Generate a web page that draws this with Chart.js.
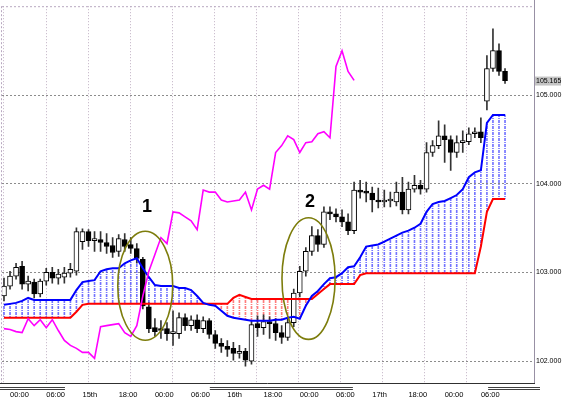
<!DOCTYPE html>
<html>
<head>
<meta charset="utf-8">
<script src="https://cdn.jsdelivr.net/npm/chart.js@4.4.1/dist/chart.umd.min.js"></script>
<style>
  html, body { margin:0; padding:0; background:#fff; }
</style>
</head>
<body>
<canvas id="c" width="562" height="399"></canvas>
<script>
// 1時間足 + 一目均衡表（雲・遅行スパン）

const opens = [
  102.734, 102.846, 102.958, 103.069, 102.868, 102.891, 102.757, 102.902, 103.002, 102.935,
  102.946, 102.991, 103.013, 103.348, 103.460, 103.359, 103.371, 103.337, 103.304, 103.237,
  103.371, 103.315, 103.270, 103.147, 102.612, 102.377, 102.355, 102.366, 102.310, 102.310,
  102.489, 102.399, 102.466, 102.366, 102.455, 102.299, 102.199, 102.165, 102.143, 102.087,
  102.109, 101.998, 102.422, 102.377, 102.444, 102.422, 102.321, 102.265, 102.433, 102.768,
  103.013, 103.237, 103.415, 103.315, 103.683, 103.661, 103.627, 103.571, 103.471, 103.929,
  103.906, 103.895, 103.817, 103.795, 103.806, 103.795, 103.906, 103.705, 103.940, 103.984,
  103.940, 104.353, 104.431, 104.542, 104.498, 104.353, 104.464, 104.475, 104.565, 104.587,
  104.933, 105.301, 105.502, 105.268
];
const highs = [
  102.935, 103.013, 103.103, 103.125, 102.958, 102.924, 102.924, 103.047, 103.058, 103.036,
  103.058, 103.103, 103.504, 103.493, 103.482, 103.460, 103.460, 103.438, 103.393, 103.426,
  103.438, 103.393, 103.326, 103.170, 102.656, 102.478, 102.455, 102.433, 102.567, 102.545,
  102.533, 102.511, 102.522, 102.500, 102.478, 102.344, 102.254, 102.232, 102.210, 102.176,
  102.143, 102.455, 102.511, 102.522, 102.500, 102.478, 102.399, 102.478, 102.812, 103.069,
  103.281, 103.516, 103.482, 103.739, 103.739, 103.717, 103.705, 103.661, 104.018, 104.040,
  104.018, 103.962, 103.951, 103.929, 103.906, 104.018, 104.074, 104.018, 104.096, 104.040,
  104.464, 104.487, 104.710, 104.665, 104.542, 104.542, 104.598, 104.632, 104.632, 104.743,
  105.446, 105.748, 105.580, 105.301
];
const lows = [
  102.679, 102.812, 102.924, 102.812, 102.790, 102.712, 102.723, 102.857, 102.879, 102.868,
  102.879, 102.946, 102.969, 103.259, 103.292, 103.237, 103.237, 103.214, 103.170, 103.181,
  103.237, 103.214, 103.103, 102.589, 102.321, 102.277, 102.254, 102.232, 102.176, 102.254,
  102.344, 102.344, 102.321, 102.321, 102.254, 102.143, 102.098, 102.053, 102.009, 102.031,
  101.942, 101.964, 102.277, 102.299, 102.254, 102.232, 102.199, 102.232, 102.388, 102.723,
  102.958, 103.192, 103.237, 103.281, 103.594, 103.571, 103.516, 103.426, 103.438, 103.839,
  103.795, 103.683, 103.728, 103.739, 103.739, 103.750, 103.661, 103.661, 103.906, 103.884,
  103.906, 104.308, 104.397, 104.241, 104.152, 104.297, 104.353, 104.442, 104.520, 104.464,
  104.833, 105.268, 105.223, 105.134
];
const closes = [
  102.846, 102.958, 103.058, 102.868, 102.902, 102.757, 102.902, 103.002, 102.935, 102.980,
  102.991, 103.036, 103.460, 103.460, 103.359, 103.371, 103.337, 103.292, 103.225, 103.382,
  103.292, 103.270, 103.159, 102.623, 102.366, 102.332, 102.344, 102.310, 102.332, 102.489,
  102.399, 102.466, 102.366, 102.455, 102.299, 102.199, 102.165, 102.131, 102.087, 102.098,
  102.009, 102.411, 102.377, 102.444, 102.422, 102.321, 102.265, 102.433, 102.768, 103.013,
  103.237, 103.415, 103.315, 103.683, 103.661, 103.627, 103.571, 103.471, 103.929, 103.906,
  103.895, 103.817, 103.795, 103.806, 103.817, 103.906, 103.705, 103.940, 103.984, 103.940,
  104.353, 104.431, 104.542, 104.498, 104.353, 104.464, 104.475, 104.565, 104.587, 104.520,
  105.301, 105.502, 105.268, 105.165
];

// 先行スパンA（青）・先行スパンB（赤）
const spanA = [
  102.634, 102.645, 102.656, 102.679, 102.712, 102.690, 102.690, 102.690, 102.690, 102.690,
  102.690, 102.690, 102.801, 102.891, 102.902, 102.913, 103.013, 103.036, 103.047, 103.047,
  103.103, 103.136, 103.159, 103.047, 102.946, 102.857, 102.846, 102.846, 102.846, 102.824,
  102.824, 102.801, 102.734, 102.656, 102.634, 102.623, 102.567, 102.511, 102.489, 102.478,
  102.466, 102.455, 102.455, 102.455, 102.455, 102.466, 102.466, 102.489, 102.500, 102.478,
  102.623, 102.734, 102.790, 102.868, 102.935, 102.946, 102.991, 103.058, 103.069, 103.170,
  103.292, 103.304, 103.315, 103.348, 103.382, 103.415, 103.449, 103.471, 103.504, 103.549,
  103.683, 103.772, 103.795, 103.806, 103.839, 103.873, 103.940, 104.074, 104.129, 104.152,
  104.687, 104.777, 104.777, 104.777
];
const spanB = [
  102.489, 102.489, 102.489, 102.489, 102.489, 102.489, 102.489, 102.489, 102.489, 102.489,
  102.489, 102.489, 102.556, 102.634, 102.645, 102.645, 102.645, 102.645, 102.645, 102.645,
  102.645, 102.645, 102.645, 102.645, 102.645, 102.645, 102.645, 102.645, 102.645, 102.645,
  102.645, 102.645, 102.645, 102.645, 102.645, 102.645, 102.645, 102.645, 102.712, 102.746,
  102.723, 102.701, 102.701, 102.701, 102.701, 102.701, 102.701, 102.701, 102.701, 102.701,
  102.701, 102.701, 102.757, 102.812, 102.868, 102.868, 102.868, 102.868, 102.868, 102.969,
  102.991, 102.991, 102.991, 102.991, 102.991, 102.991, 102.991, 102.991, 102.991, 102.991,
  102.991, 102.991, 102.991, 102.991, 102.991, 102.991, 102.991, 102.991, 102.991, 103.292,
  103.683, 103.828, 103.828, 103.828
];
// 遅行スパン（マゼンタ）
const chikou = [
  102.366, 102.355, 102.332, 102.321, 102.478, 102.399, 102.466, 102.377, 102.466, 102.344,
  102.232, 102.176, 102.143, 102.098, 102.098, 102.031, 102.388, 102.399, 102.411, 102.422,
  102.321, 102.277, 102.399, 102.734, 103.013, 103.203, 103.393, 103.326, 103.683, 103.672,
  103.627, 103.583, 103.482, 103.929, 103.906, 103.906, 103.817, 103.795, 103.806, 103.817,
  103.906, 103.705, 103.940, 103.984, 103.940, 104.353, 104.431, 104.542, 104.498, 104.353,
  104.464, 104.475, 104.565, 104.587, 104.520, 105.324, 105.502, 105.268, 105.167
];

const timeLabels = ['00:00', '06:00', '15th', '18:00', '00:00', '06:00', '16th', '18:00',
                    '00:00', '06:00', '17th', '18:00', '00:00', '06:00'];
const timeLabelBars = [1, 7, 13, 19, 25, 31, 37, 43, 49, 55, 61, 67, 73, 79];
const priceTicks = [102, 103, 104, 105];
const lastPrice = closes[closes.length - 1];

// 注釈（楕円と番号）
const notes = [
  { label: '1', bar: 23.4, price: 102.85, barR: 4.55, priceR: 0.615, textBar: 23.7, textPrice: 103.74 },
  { label: '2', bar: 50.45, price: 102.93, barR: 4.4, priceR: 0.686, textBar: 50.7, textPrice: 103.795 },
];
// 時間軸の日付区切り（二重線）
const daySpans = [[-1, 10.1], [34.1, 57.8], [80.2, 89]];

const X_MIN = -0.33, X_MAX = 87.8;
const GRID_STEP = 6.96;
const FONT = "'Liberation Sans Narrow', 'Liberation Sans', Arial, sans-serif";

const canvas = document.getElementById('c');
const ctx = canvas.getContext('2d');

function hatch(color) {
  const p = document.createElement('canvas');
  p.width = 1; p.height = 6;
  const g = p.getContext('2d');
  g.fillStyle = color;
  g.fillRect(0, 0, 1, 3);
  g.fillRect(0, 4, 1, 1);
  return ctx.createPattern(p, 'repeat');
}
const blueHatch = hatch('rgba(80,80,255,0.8)');
const redHatch = hatch('rgba(255,80,80,0.75)');

const idx = closes.map((_, i) => i);

const overlay = {
  id: 'overlay',
  afterDatasetsDraw(chart) {
    const { ctx: c, scales: { x, y } } = chart;
    c.save();
    notes.forEach(n => {
      const cx = x.getPixelForValue(n.bar), cy = y.getPixelForValue(n.price);
      const rx = Math.abs(x.getPixelForValue(n.bar + n.barR) - cx);
      const ry = Math.abs(y.getPixelForValue(n.price + n.priceR) - cy);
      c.strokeStyle = '#7d7d0c';
      c.lineWidth = 1.6;
      c.beginPath();
      c.ellipse(cx, cy, rx, ry, 0, 0, Math.PI * 2);
      c.stroke();
      c.fillStyle = '#000';
      c.font = "bold 18px 'Liberation Sans', Arial, sans-serif";
      c.textAlign = 'center';
      c.textBaseline = 'middle';
      c.fillText(n.label, x.getPixelForValue(n.textBar), y.getPixelForValue(n.textPrice));
    });
    c.restore();
  },
  afterDraw(chart) {
    const { ctx: c, chartArea: a, scales: { x, y } } = chart;
    c.save();
    // 枠
    c.setLineDash([2, 2]);
    c.strokeStyle = '#b8a8c0';
    c.lineWidth = 1;
    c.beginPath();
    c.moveTo(a.left - 0.5, a.top); c.lineTo(a.left - 0.5, a.bottom);
    c.moveTo(a.left, a.top + 0.5); c.lineTo(a.right, a.top + 0.5);
    c.stroke();
    c.setLineDash([]);
    c.strokeStyle = '#9890a4';
    c.beginPath();
    c.moveTo(a.right + 0.5, 0); c.lineTo(a.right + 0.5, a.bottom + 1);
    c.stroke();
    c.strokeStyle = '#303030';
    c.beginPath();
    c.moveTo(0, a.bottom + 0.5); c.lineTo(a.right + 1, a.bottom + 0.5);
    c.stroke();
    // 日付区切り
    c.strokeStyle = '#404040';
    daySpans.forEach(([s, e]) => {
      const x1 = Math.max(0, x.getPixelForValue(s)), x2 = Math.min(540, x.getPixelForValue(e));
      c.beginPath();
      c.moveTo(x1, a.bottom + 4.5); c.lineTo(x2, a.bottom + 4.5);
      c.moveTo(x1, a.bottom + 6.5); c.lineTo(x2, a.bottom + 6.5);
      c.stroke();
    });
    // 現在値ラベル
    const py = y.getPixelForValue(lastPrice);
    c.fillStyle = '#c4c4c4';
    c.fillRect(a.right + 1, py - 4, 26, 9);
    c.fillStyle = '#000';
    c.font = '7px ' + FONT;
    c.textAlign = 'left';
    c.textBaseline = 'middle';
    c.fillText(lastPrice.toFixed(3), a.right + 2, py + 0.5);
    c.restore();
  }
};

new Chart(ctx, {
  type: 'line',
  data: {
    datasets: [
      {
        label: 'chikou',
        data: chikou.map((v, i) => ({ x: i, y: v })),
        borderColor: '#ff00ff', borderWidth: 1.6, pointRadius: 0, tension: 0, order: 0,
      },
      {
        label: 'spanA',
        data: spanA.map((v, i) => ({ x: i, y: v })),
        borderColor: '#0000ff', borderWidth: 2, pointRadius: 0, tension: 0, order: 0,
      },
      {
        label: 'spanB',
        data: spanB.map((v, i) => ({ x: i, y: v })),
        borderColor: '#ff0000', borderWidth: 2, pointRadius: 0, tension: 0, order: 0,
      },
      {
        type: 'bar', label: 'body',
        data: idx.map(i => ({ x: i, y: [opens[i], closes[i]] })),
        backgroundColor: c => closes[c.dataIndex] >= opens[c.dataIndex] ? '#ffffff' : '#000000',
        borderColor: '#000', borderWidth: 1, borderSkipped: false,
        barThickness: 5, minBarLength: 2, grouped: false, order: 1,
      },
      {
        type: 'bar', label: 'wick',
        data: idx.map(i => ({ x: i, y: [lows[i], highs[i]] })),
        backgroundColor: '#333', barThickness: 1, grouped: false, order: 2,
      },
      {
        type: 'bar', label: 'kumo',
        data: idx.map(i => ({ x: i, y: [Math.min(spanA[i], spanB[i]), Math.max(spanA[i], spanB[i])] })),
        backgroundColor: c => spanA[c.dataIndex] >= spanB[c.dataIndex] ? blueHatch : redHatch,
        barThickness: 1, grouped: false, order: 3,
      },
    ]
  },
  options: {
    responsive: false,
    animation: false,
    devicePixelRatio: 1,
    layout: { padding: { left: 2, top: 2, right: 0, bottom: 0 } },
    plugins: { legend: { display: false }, tooltip: { enabled: false } },
    scales: {
      x: {
        type: 'linear', min: X_MIN, max: X_MAX, offset: false,
        afterBuildTicks: s => { s.ticks = timeLabelBars.map(v => ({ value: v })); },
        ticks: {
          autoSkip: false, maxRotation: 0, align: 'start', padding: 7, color: '#000',
          font: { family: FONT, size: 7.5 },
          callback: v => timeLabels[timeLabelBars.indexOf(v)],
        },
        grid: { display: false, drawTicks: false },
        border: { display: false },
        afterFit: s => { s.height = 16; },
      },
      xg: {
        type: 'linear', position: 'bottom', min: X_MIN, max: X_MAX, offset: false,
        afterBuildTicks: s => {
          const t = [];
          for (let k = 0; k * GRID_STEP < 78; k++) t.push({ value: k * GRID_STEP });
          s.ticks = t;
        },
        ticks: { display: false },
        grid: { color: '#c0b0c4', lineWidth: 1, drawTicks: false },
        border: { display: false, dash: [1, 2] },
        afterFit: s => { s.height = 0; },
      },
      y: {
        type: 'linear', position: 'right', min: 101.752, max: 106.004,
        afterBuildTicks: s => { s.ticks = priceTicks.map(v => ({ value: v })); },
        ticks: {
          padding: 2, color: '#000',
          font: { family: FONT, size: 7 },
          callback: v => v.toFixed(3),
        },
        grid: { color: '#8c8c8c', lineWidth: 1, drawTicks: false },
        border: { display: false, dash: [2, 2] },
        afterFit: s => { s.width = 28; },
      },
    }
  },
  plugins: [overlay]
});
</script>
</body>
</html>
